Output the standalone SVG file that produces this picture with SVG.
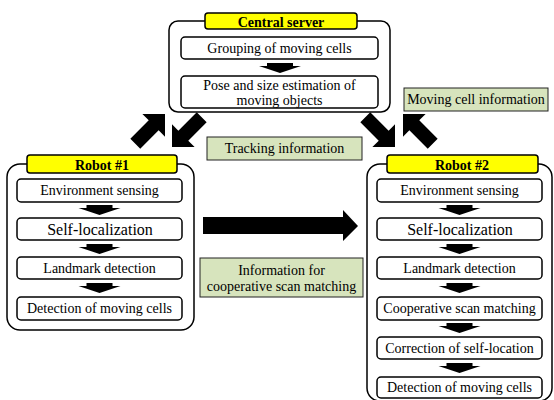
<svg xmlns="http://www.w3.org/2000/svg" width="554" height="400" viewBox="0 0 554 400">
<defs>
<style>
.outer{fill:#fff;stroke:#000;stroke-width:1.5}
.tab{fill:#ffff00;stroke:#000;stroke-width:1.5}
.box{fill:#fff;stroke:#000;stroke-width:1.5}
.lbl{fill:#d7e4bd;stroke:#222;stroke-width:1}
text{font-family:"Liberation Serif",serif;font-size:14px;fill:#000;text-anchor:middle}
.title{font-weight:bold}
.big{font-size:16px}
.blk{fill:#000}
</style>
<path id="sa" d="M-13,0 H13 V3 H21 L0,10 L-21,3 H-13 Z"/>
<path id="da" d="M0,0 L-16,-16 L-16,-7 L-42,-7 L-42,7 L-16,7 L-16,16 Z"/>
</defs>
<rect width="554" height="400" fill="#fff"/>

<g id="central-server">
<rect class="outer" x="169" y="21" width="221" height="91" rx="9"/>
<rect class="tab" x="205" y="13" width="152" height="16" rx="3"/>
<text class="title" x="281" y="27">Central server</text>
<rect class="box" x="181" y="37" width="197" height="22" rx="4"/>
<text x="279.5" y="53">Grouping of moving cells</text>
<use href="#sa" class="blk" x="280" y="63"/>
<rect class="box" x="181" y="76" width="197" height="32" rx="4"/>
<text x="279.5" y="90">Pose and size estimation of</text>
<text x="279.5" y="105">moving objects</text>
</g>

<g id="robot-1">
<rect class="outer" x="7" y="164" width="187" height="166" rx="13"/>
<rect class="tab" x="27" y="155" width="150" height="18" rx="3"/>
<text class="title" x="102" y="170">Robot #1</text>
<rect class="box" x="17" y="179" width="165" height="23" rx="4"/>
<text x="99.5" y="195">Environment sensing</text>
<use href="#sa" class="blk" x="99.5" y="205"/>
<rect class="box" x="17" y="218" width="165" height="22" rx="4"/>
<text class="big" x="100" y="235">Self-localization</text>
<use href="#sa" class="blk" x="99.5" y="244"/>
<rect class="box" x="17" y="257" width="165" height="22" rx="4"/>
<text x="99.5" y="273">Landmark detection</text>
<use href="#sa" class="blk" x="99.5" y="283"/>
<rect class="box" x="17" y="297" width="165" height="23" rx="4"/>
<text x="99.5" y="313">Detection of moving cells</text>
</g>

<g id="robot-2">
<rect class="outer" x="367" y="164" width="185" height="237" rx="13"/>
<rect class="tab" x="387" y="155" width="151" height="18" rx="3"/>
<text class="title" x="462" y="170">Robot #2</text>
<rect class="box" x="377" y="179" width="165" height="23" rx="4"/>
<text x="459.5" y="195">Environment sensing</text>
<use href="#sa" class="blk" x="459.5" y="205"/>
<rect class="box" x="377" y="218" width="165" height="22" rx="4"/>
<text class="big" x="460" y="235">Self-localization</text>
<use href="#sa" class="blk" x="459.5" y="244"/>
<rect class="box" x="377" y="257" width="165" height="22" rx="4"/>
<text x="459.5" y="273">Landmark detection</text>
<use href="#sa" class="blk" x="459.5" y="283"/>
<rect class="box" x="377" y="297" width="165" height="23" rx="4"/>
<text x="459.5" y="313">Cooperative scan matching</text>
<use href="#sa" class="blk" x="459.5" y="323"/>
<rect class="box" x="377" y="337" width="165" height="22" rx="4"/>
<text x="459.5" y="353">Correction of self-location</text>
<use href="#sa" class="blk" x="459.5" y="363"/>
<rect class="box" x="377" y="377" width="165" height="21" rx="4"/>
<text x="459.5" y="392">Detection of moving cells</text>
</g>

<g id="connectors">
<use href="#da" class="blk" transform="translate(165,114) rotate(-45)"/>
<use href="#da" class="blk" transform="translate(172,147) rotate(135)"/>
<use href="#da" class="blk" transform="translate(395,147) rotate(45)"/>
<use href="#da" class="blk" transform="translate(403,114) rotate(-135)"/>
<path class="blk" d="M203,217 H343 V210 L358,226 L343,241 V234 H203 Z"/>
</g>

<g id="label-tracking">
<rect class="lbl" x="207" y="137" width="155" height="23"/>
<text x="284.5" y="153">Tracking information</text>
</g>
<g id="label-coop">
<rect class="lbl" x="200" y="258" width="163" height="39"/>
<text x="281.5" y="275">Information for</text>
<text x="281.5" y="291">cooperative scan matching</text>
</g>
<g id="label-moving">
<rect class="lbl" x="404" y="88" width="144" height="23"/>
<text x="476" y="104">Moving cell information</text>
</g>
</svg>
